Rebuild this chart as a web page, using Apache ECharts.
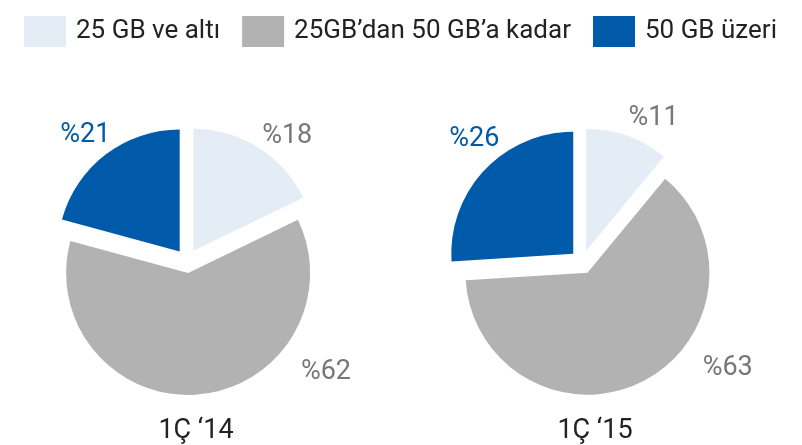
<!DOCTYPE html>
<html>
<head>
<meta charset="utf-8">
<script src="https://cdn.jsdelivr.net/npm/echarts@6/dist/echarts.min.js"></script>
<style>
  html, body { margin: 0; padding: 0; background: #fff; }
  #chart { width: 802px; height: 445px; }
</style>
</head>
<body>
<div id="chart"></div>
<script>
const categories = ["25 GB ve altı", "25GB’dan 50 GB’a kadar", "50 GB üzeri"];
const periods = ["1Ç ‘14", "1Ç ‘15"];
const share2014 = [18, 62, 21];
const share2015 = [11, 63, 26];

const sliceColors = ["#E4ECF6", "#B2B2B2", "#005AAA"];
const labelColors = ["#777777", "#777777", "#005AAA"];
const fontFamily = "Roboto, 'Liberation Sans', sans-serif";

// small nudges so the percent labels sit where the original has them
const labelNudge = [
  [[-9, 1], [95, -37], [19, -7]],
  [[-9, -4], [48, -27], [31, -21]],
];

const chart = echarts.init(document.getElementById("chart"));

function makePie(values, center, seriesIndex) {
  return {
    type: "pie",
    center: center,
    radius: 122,
    startAngle: 90,
    clockwise: true,
    selectedMode: "multiple",
    selectedOffset: 12,
    animation: false,
    emphasis: { disabled: true },
    label: {
      show: true,
      position: "outside",
      fontFamily: fontFamily,
      fontSize: 27,
      formatter: (p) => "%" + p.value,
    },
    labelLine: { show: false, length: 15, length2: 0 },
    labelLayout: (params) => {
      const n = labelNudge[seriesIndex][params.dataIndex];
      return { dx: n[0], dy: n[1] };
    },
    data: values.map((v, i) => ({
      name: categories[i],
      value: v,
      selected: true,
      itemStyle: { color: sliceColors[i] },
      label: { color: labelColors[i] },
      select: { itemStyle: { color: sliceColors[i] }, label: { color: labelColors[i] } },
    })),
  };
}

const option = {
  backgroundColor: "#fff",
  legend: {
    data: categories,
    left: 19,
    top: 11,
    icon: "rect",
    itemWidth: 42,
    itemHeight: 31,
    itemGap: 22,
    selectedMode: false,
    textStyle: {
      fontFamily: fontFamily,
      fontSize: 26,
      color: "#222",
      padding: [0, 0, 0, 5],
    },
  },
  title: [
    {
      text: periods[0],
      left: 191,
      top: 413,
      textAlign: "center",
      textStyle: { fontFamily: fontFamily, fontSize: 27, fontWeight: "normal", color: "#222" },
    },
    {
      text: periods[1],
      left: 590,
      top: 413,
      textAlign: "center",
      textStyle: { fontFamily: fontFamily, fontSize: 27, fontWeight: "normal", color: "#222" },
    },
  ],
  series: [makePie(share2014, [187, 261], 0), makePie(share2015, [582, 262], 1)],
};

chart.setOption(option);
</script>
</body>
</html>
